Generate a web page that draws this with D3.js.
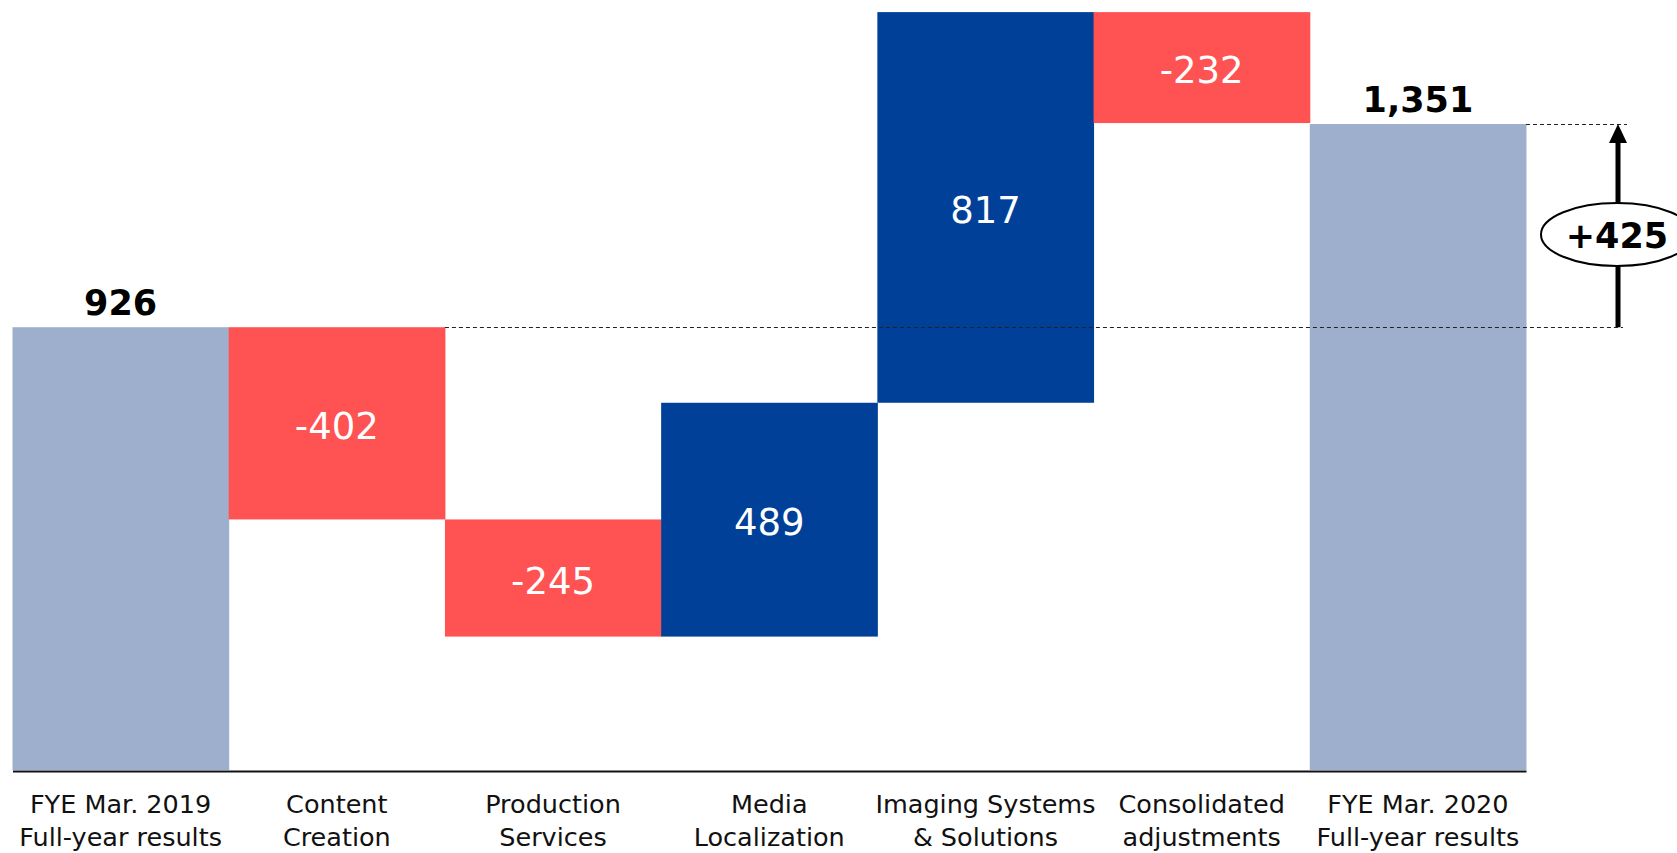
<!DOCTYPE html>
<html>
<head>
<meta charset="utf-8">
<script src="https://cdn.jsdelivr.net/npm/d3@7"></script>
<style>
  html, body { margin: 0; padding: 0; background: #fff; }
  svg { display: block; }
</style>
</head>
<body>
<svg id="chart" width="1677" height="853"></svg>
<script>
// ---- data ----
const categories = [
  "FYE Mar. 2019\nFull-year results",
  "Content\nCreation",
  "Production\nServices",
  "Media\nLocalization",
  "Imaging Systems\n& Solutions",
  "Consolidated\nadjustments",
  "FYE Mar. 2020\nFull-year results"
];
const startValue = 926;
const deltas = [-402, -245, 489, 817, -232];
const endValue = 1351;
const totalChange = 425;
const totalChangeLabel = "+425";

// ---- build waterfall rows ----
const rows = [];
rows.push({cat: categories[0], y0: 0, y1: startValue, type: "total", label: d3.format(",")(startValue)});
let run = startValue;
deltas.forEach((d, i) => {
  rows.push({cat: categories[i + 1], y0: run, y1: run + d, type: d < 0 ? "neg" : "pos", label: String(d)});
  run += d;
});
rows.push({cat: categories[6], y0: 0, y1: endValue, type: "total", label: d3.format(",")(endValue)});

const colors = {total: "#9dafcd", neg: "#ff5252", pos: "#004098"};

const svg = d3.select("#chart");

const x = d3.scaleBand().domain(categories).range([12.5, 1526]).paddingInner(0).paddingOuter(0);
const y = d3.scaleLinear().domain([0, endValue]).range([770, 124]);
const bw = x.bandwidth();

// bars
svg.append("g").selectAll("rect").data(rows).join("rect")
  .attr("x", d => x(d.cat))
  .attr("width", bw + 0.5)
  .attr("y", d => y(Math.max(d.y0, d.y1)))
  .attr("height", d => Math.abs(y(d.y0) - y(d.y1)))
  .attr("fill", d => colors[d.type]);

// dashed reference lines
const arrowX = 1618;
svg.append("line")
  .attr("x1", x(categories[1]) + bw).attr("x2", arrowX + 5)
  .attr("y1", Math.round(y(startValue)) + 0.5).attr("y2", Math.round(y(startValue)) + 0.5)
  .attr("stroke", "#222").attr("stroke-width", 1).attr("stroke-dasharray", "4,3");
svg.append("line")
  .attr("x1", x(categories[6]) + bw).attr("x2", arrowX + 9)
  .attr("y1", Math.round(y(endValue)) + 0.5).attr("y2", Math.round(y(endValue)) + 0.5)
  .attr("stroke", "#222").attr("stroke-width", 1).attr("stroke-dasharray", "4,3");

// axis
const axis = d3.axisBottom(x).tickSize(0).tickSizeOuter(0).tickFormat("");
const gAxis = svg.append("g").attr("transform", "translate(0,771)").call(axis);
gAxis.select(".domain").attr("stroke", "#111").attr("stroke-width", 2);

// category labels (two lines)
const lab = svg.append("g").selectAll("text").data(categories).join("text")
  .attr("text-anchor", "middle")
  .attr("font-family", "DejaVu Sans, Verdana, sans-serif")
  .attr("font-size", 25.5)
  .attr("fill", "#111");
lab.each(function(c) {
  const lines = c.split("\n");
  const t = d3.select(this);
  lines.forEach((ln, i) => {
    t.append("tspan")
      .attr("x", x(c) + bw / 2)
      .attr("y", 813 + i * 33)
      .text(ln);
  });
});

// value labels
svg.append("g").selectAll("text").data(rows).join("text")
  .attr("text-anchor", "middle")
  .attr("font-family", "DejaVu Sans, Verdana, sans-serif")
  .attr("x", d => x(d.cat) + bw / 2)
  .attr("y", d => d.type === "total"
      ? y(d.y1) - 12.5
      : (y(d.y0) + y(d.y1)) / 2 + 15.5)
  .attr("font-size", d => d.type === "total" ? 35 : 37)
  .attr("font-weight", d => d.type === "total" ? "bold" : "normal")
  .attr("fill", d => d.type === "total" ? "#000" : "#fff")
  .text(d => d.label);

// arrow showing total change
const yA = y(startValue), yB = y(startValue + totalChange);
svg.append("line")
  .attr("x1", arrowX).attr("x2", arrowX)
  .attr("y1", yA).attr("y2", yB + 16)
  .attr("stroke", "#000").attr("stroke-width", 5);
svg.append("path")
  .attr("d", `M${arrowX},${yB} L${arrowX - 9},${yB + 19} L${arrowX + 9},${yB + 19} Z`)
  .attr("fill", "#000");
const ecy = 234.5;
svg.append("ellipse")
  .attr("cx", arrowX - 1).attr("cy", ecy)
  .attr("rx", 76).attr("ry", 31.5)
  .attr("fill", "#fff").attr("stroke", "#000").attr("stroke-width", 2);
svg.append("text")
  .attr("x", arrowX - 1).attr("y", ecy + 13)
  .attr("text-anchor", "middle")
  .attr("font-family", "DejaVu Sans, Verdana, sans-serif")
  .attr("font-weight", "bold")
  .attr("font-size", 35)
  .attr("fill", "#000")
  .text(totalChangeLabel);
</script>
</body>
</html>
